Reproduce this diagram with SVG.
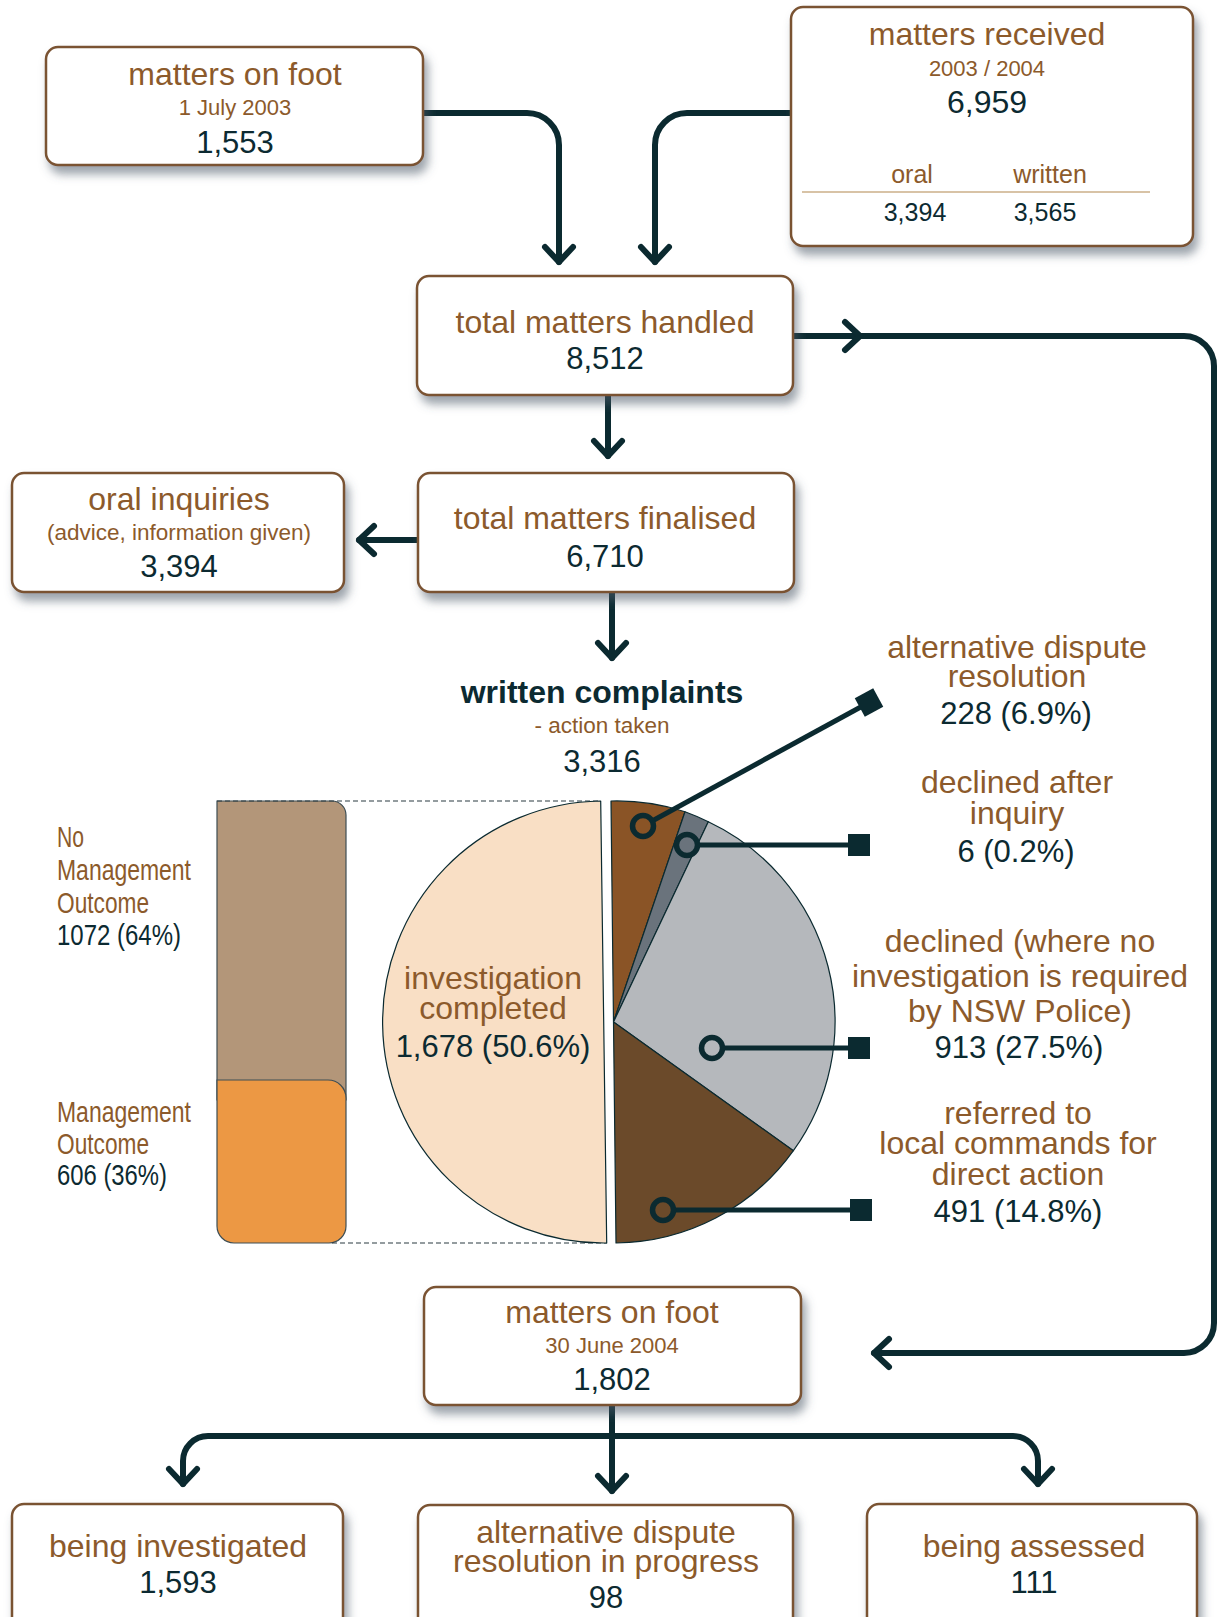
<svg xmlns="http://www.w3.org/2000/svg" width="1219" height="1617" viewBox="0 0 1219 1617">
<defs>
<filter id="sh" x="-10%" y="-15%" width="125%" height="140%">
<feDropShadow dx="4" dy="8" stdDeviation="5" flood-color="#4e5a66" flood-opacity="0.55"/>
</filter>
<marker id="chev" viewBox="-20 -20 40 40" markerWidth="40" markerHeight="40" refX="0" refY="0" markerUnits="userSpaceOnUse" orient="auto">
<path d="M-15,-14 L0,0 L-15,14" fill="none" stroke="#0b2a30" stroke-width="6" stroke-linecap="round" stroke-linejoin="round"/>
</marker>
</defs>
<style>
text{font-family:"Liberation Sans",Arial,sans-serif;text-anchor:middle}
.b{fill:#8c5a2b}
.d{fill:#0c2a31}
.t32{font-size:32px}
.t31{font-size:31px}
.t22{font-size:22px}
.t25{font-size:25px}
.bold{font-weight:bold}
.box{fill:#fff;stroke:#7a5333;stroke-width:2.5;filter:url(#sh)}
.con{fill:none;stroke:#0b2a30;stroke-width:6;stroke-linecap:round;stroke-linejoin:round}
.lead{fill:none;stroke:#0b2a30;stroke-width:5}
.ring{stroke:#0b2a30;stroke-width:5.5}
.wedge{stroke:#0b2a30;stroke-width:1.2;stroke-linejoin:round}
.dash{fill:none;stroke:#2a3a40;stroke-width:1.2;stroke-dasharray:5,3}
.lbl{text-anchor:start;font-size:29px}
</style>
<rect width="1219" height="1617" fill="#fff"/>

<g id="connectors">
<path class="con" d="M423,113 H527 A32,32 0 0 1 559,145 V262" marker-end="url(#chev)"/>
<path class="con" d="M791,113 H687 A32,32 0 0 0 655,145 V262" marker-end="url(#chev)"/>
<path class="con" d="M793,336 H1184 A30,30 0 0 1 1214,366 V1323 A30,30 0 0 1 1184,1353 H874" marker-end="url(#chev)"/>
<path class="con" d="M845,322 L860,336 L845,350"/>
<path class="con" d="M608,395 V456" marker-end="url(#chev)"/>
<path class="con" d="M612,592 V658" marker-end="url(#chev)"/>
<path class="con" d="M418,540 H359" marker-end="url(#chev)"/>
<path class="con" d="M612,1405 V1491" marker-end="url(#chev)"/>
<path class="con" d="M612,1436 H208 A25,25 0 0 0 183,1461 V1484" marker-end="url(#chev)"/>
<path class="con" d="M612,1436 H1013 A25,25 0 0 1 1038,1461 V1484" marker-end="url(#chev)"/>
</g>

<g id="matters-on-foot-2003">
<rect class="box" x="46" y="47" width="377" height="118" rx="12"/>
<text class="b t32" x="235" y="85">matters on foot</text>
<text class="b t22" x="235" y="115">1 July 2003</text>
<text class="d t31" x="235" y="153">1,553</text>
</g>

<g id="matters-received">
<rect class="box" x="791" y="7" width="402" height="239" rx="12"/>
<text class="b t32" x="987" y="45">matters received</text>
<text class="b t22" x="987" y="76">2003 / 2004</text>
<text class="d t32" x="987" y="113">6,959</text>
<text class="b t25" x="912" y="183">oral</text>
<text class="b t25" x="1050" y="183">written</text>
<line x1="802" y1="192" x2="1150" y2="192" stroke="#d8c3a6" stroke-width="1.8"/>
<text class="d t25" x="915" y="221">3,394</text>
<text class="d t25" x="1045" y="221">3,565</text>
</g>

<g id="total-handled">
<rect class="box" x="417" y="276" width="376" height="119" rx="12"/>
<text class="b t32" x="605" y="333">total matters handled</text>
<text class="d t31" x="605" y="369">8,512</text>
</g>

<g id="total-finalised">
<rect class="box" x="418" y="473" width="376" height="119" rx="12"/>
<text class="b t32" x="605" y="529">total matters finalised</text>
<text class="d t31" x="605" y="567">6,710</text>
</g>

<g id="oral-inquiries">
<rect class="box" x="12" y="473" width="332" height="119" rx="12"/>
<text class="b t32" x="179" y="510">oral inquiries</text>
<text class="b" style="font-size:22.5px" x="179" y="540">(advice, information given)</text>
<text class="d t31" x="179" y="577">3,394</text>
</g>

<g id="written-complaints">
<text class="d t32 bold" x="602" y="703">written complaints</text>
<text class="b" style="font-size:22.5px" x="602" y="733">- action taken</text>
<text class="d t31" x="602" y="772">3,316</text>
</g>

<g id="outcome-bar">
<path d="M217,801 H332 A14,14 0 0 1 346,815 V1100 H217 Z" fill="#b39679" stroke="#3e4e54" stroke-width="1.2"/>
<path d="M217,1080 H328 A18,18 0 0 1 346,1098 V1226 A17,17 0 0 1 329,1243 H234 A17,17 0 0 1 217,1226 Z" fill="#ec9844" stroke="#3e4e54" stroke-width="1.2"/>
<path class="dash" d="M217,801 H601"/>
<path class="dash" d="M332,1243 H607"/>
<text class="b lbl" x="57" y="847" textLength="27" lengthAdjust="spacingAndGlyphs">No</text>
<text class="b lbl" x="57" y="880" textLength="134" lengthAdjust="spacingAndGlyphs">Management</text>
<text class="b lbl" x="57" y="913" textLength="92" lengthAdjust="spacingAndGlyphs">Outcome</text>
<text class="d lbl" x="57" y="945" textLength="124" lengthAdjust="spacingAndGlyphs">1072 (64%)</text>
<text class="b lbl" x="57" y="1122" textLength="134" lengthAdjust="spacingAndGlyphs">Management</text>
<text class="b lbl" x="57" y="1154" textLength="92" lengthAdjust="spacingAndGlyphs">Outcome</text>
<text class="d lbl" x="57" y="1185" textLength="110" lengthAdjust="spacingAndGlyphs">606 (36%)</text>
</g>

<g id="pie">
<path class="wedge" fill="#f9dfc5" d="M600.7,801 L606.7,1243 A221,221 0 1 1 600.7,801 Z"/>
<path class="wedge" fill="#8a5426" d="M613.5,1022 L611,801 A221,221 0 0 1 685,811.7 Z"/>
<path class="wedge" fill="#6a737c" d="M613.5,1022 L685,811.7 A221,221 0 0 1 708.3,821.7 Z"/>
<path class="wedge" fill="#b5b8bc" d="M613.5,1022 L708.3,821.7 A221,221 0 0 1 793.4,1150.7 Z"/>
<path class="wedge" fill="#6b4a2a" d="M613.5,1022 L793.4,1150.7 A221,221 0 0 1 616,1243 Z"/>
<text class="b t32" x="493" y="989">investigation</text>
<text class="b t32" x="493" y="1019">completed</text>
<text class="d t31" x="493" y="1057">1,678 (50.6%)</text>
</g>

<g id="leader-adr">
<line class="lead" x1="643" y1="826" x2="869" y2="702.5"/>
<rect x="858.5" y="692" width="21" height="21" fill="#0b2a30" transform="rotate(-28.6 869 702.5)"/>
<circle class="ring" cx="643" cy="826" r="10.5" fill="#8a5426"/>
<text class="b t32" x="1017" y="658">alternative dispute</text>
<text class="b t32" x="1017" y="687">resolution</text>
<text class="d t31" x="1016" y="724">228 (6.9%)</text>
</g>

<g id="leader-declined-after-inquiry">
<line class="lead" x1="687" y1="845" x2="859" y2="845"/>
<rect x="848" y="834" width="22" height="22" fill="#0b2a30"/>
<circle class="ring" cx="687" cy="845" r="10.5" fill="#6a737c"/>
<text class="b t32" x="1017" y="793">declined after</text>
<text class="b t32" x="1017" y="824">inquiry</text>
<text class="d t31" x="1016" y="862">6 (0.2%)</text>
</g>

<g id="leader-declined">
<line class="lead" x1="712" y1="1048" x2="859" y2="1048"/>
<rect x="848" y="1037" width="22" height="22" fill="#0b2a30"/>
<circle class="ring" cx="712" cy="1048" r="10.5" fill="#b5b8bc"/>
<text class="b t32" x="1020" y="952">declined (where no</text>
<text class="b t32" x="1020" y="987">investigation is required</text>
<text class="b t32" x="1020" y="1022">by NSW Police)</text>
<text class="d t31" x="1019" y="1058">913 (27.5%)</text>
</g>

<g id="leader-referred">
<line class="lead" x1="663" y1="1210" x2="861" y2="1210"/>
<rect x="850" y="1199" width="22" height="22" fill="#0b2a30"/>
<circle class="ring" cx="663" cy="1210" r="10.5" fill="#6b4a2a"/>
<text class="b t32" x="1018" y="1124">referred to</text>
<text class="b t32" x="1018" y="1154">local commands for</text>
<text class="b t32" x="1018" y="1185">direct action</text>
<text class="d t31" x="1018" y="1222">491 (14.8%)</text>
</g>

<g id="matters-on-foot-2004">
<rect class="box" x="424" y="1287" width="377" height="118" rx="12"/>
<text class="b t32" x="612" y="1323">matters on foot</text>
<text class="b t22" x="612" y="1353">30 June 2004</text>
<text class="d t31" x="612" y="1390">1,802</text>
</g>

<g id="being-investigated">
<rect class="box" x="12" y="1504" width="331" height="150" rx="12"/>
<text class="b t32" x="178" y="1557">being investigated</text>
<text class="d t31" x="178" y="1593">1,593</text>
</g>

<g id="adr-in-progress">
<rect class="box" x="418" y="1505" width="375" height="150" rx="12"/>
<text class="b t32" x="606" y="1543">alternative dispute</text>
<text class="b t32" x="606" y="1572">resolution in progress</text>
<text class="d t31" x="606" y="1608">98</text>
</g>

<g id="being-assessed">
<rect class="box" x="867" y="1504" width="330" height="150" rx="12"/>
<text class="b t32" x="1034" y="1557">being assessed</text>
<text class="d t31" x="1034" y="1593">111</text>
</g>
</svg>
